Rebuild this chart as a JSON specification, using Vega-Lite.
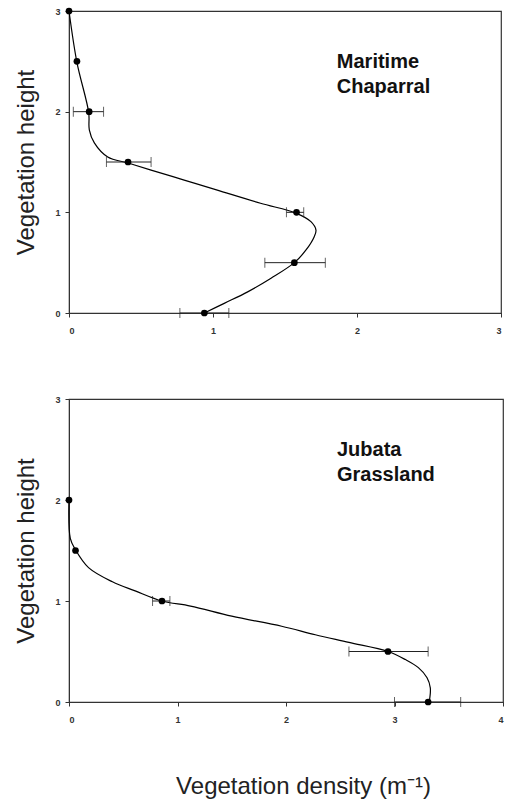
{
  "$schema": "https://vega.github.io/schema/vega-lite/v6.json",
  "padding": {"left": 14, "top": 6, "right": 4, "bottom": 0},
  "background": "white",
  "spacing": 58,
  "config": {
    "view": {"stroke": "#333", "strokeWidth": 1.2},
    "font": "Liberation Sans",
    "axis": {
      "grid": false,
      "domainColor": "#333",
      "tickColor": "#333",
      "tickSize": 4,
      "labelFont": "Liberation Sans",
      "labelFontSize": 9,
      "labelFontWeight": "bold",
      "labelColor": "#333",
      "titleFont": "Liberation Sans",
      "titleFontSize": 24,
      "titleFontWeight": "normal",
      "titleColor": "#222"
    },
    "axisX": {"labelPadding": 9},
    "axisY": {"labelPadding": 5, "titlePadding": 16},
    "text": {"lineBreak": "\n"}
  },
  "datasets": {
    "mc_points": [
      {"height": 3.0, "density": 0.0},
      {"height": 2.5, "density": 0.055},
      {"height": 2.0, "density": 0.14, "lo": 0.03, "hi": 0.24},
      {"height": 1.5, "density": 0.41, "lo": 0.26, "hi": 0.57},
      {"height": 1.0, "density": 1.58, "lo": 1.51, "hi": 1.63},
      {"height": 0.5, "density": 1.565, "lo": 1.36, "hi": 1.78},
      {"height": 0.0, "density": 0.94, "lo": 0.77, "hi": 1.11}
    ],
    "mc_curve": [
      {"height": 3.0, "density": 0.0},
      {"height": 2.49, "density": 0.055},
      {"height": 1.99, "density": 0.137},
      {"height": 1.82, "density": 0.141},
      {"height": 1.69, "density": 0.176},
      {"height": 1.55, "density": 0.269},
      {"height": 1.49, "density": 0.41},
      {"height": 1.42, "density": 0.57},
      {"height": 1.32, "density": 0.8},
      {"height": 1.22, "density": 1.03},
      {"height": 1.09, "density": 1.33},
      {"height": 0.99, "density": 1.58},
      {"height": 0.907, "density": 1.68},
      {"height": 0.824, "density": 1.715},
      {"height": 0.758, "density": 1.703},
      {"height": 0.626, "density": 1.646},
      {"height": 0.5, "density": 1.565},
      {"height": 0.345, "density": 1.403},
      {"height": 0.21, "density": 1.241},
      {"height": 0.096, "density": 1.078},
      {"height": 0.0, "density": 0.94}
    ],
    "jg_points": [
      {"height": 2.0, "density": 0.0},
      {"height": 1.5, "density": 0.06},
      {"height": 1.0, "density": 0.857, "lo": 0.77, "hi": 0.93},
      {"height": 0.5, "density": 2.94, "lo": 2.58, "hi": 3.31},
      {"height": 0.0, "density": 3.31, "lo": 3.0, "hi": 3.61}
    ],
    "jg_curve": [
      {"height": 2.0, "density": 0.0},
      {"height": 1.62, "density": 0.012},
      {"height": 1.51, "density": 0.058},
      {"height": 1.33, "density": 0.18},
      {"height": 1.19, "density": 0.4},
      {"height": 1.1, "density": 0.61},
      {"height": 1.0, "density": 0.857},
      {"height": 0.95, "density": 1.12},
      {"height": 0.85, "density": 1.5},
      {"height": 0.75, "density": 1.96},
      {"height": 0.666, "density": 2.27},
      {"height": 0.59, "density": 2.58},
      {"height": 0.5, "density": 2.94},
      {"height": 0.42, "density": 3.1},
      {"height": 0.34, "density": 3.22},
      {"height": 0.24, "density": 3.3},
      {"height": 0.14, "density": 3.33},
      {"height": 0.0, "density": 3.32}
    ],
    "mc_label": [{"density": 1.86, "height": 2.59, "label": "Maritime\nChaparral"}],
    "jg_label": [{"density": 2.47, "height": 2.59, "label": "Jubata\nGrassland"}]
  },
  "vconcat": [
    {
      "width": 432,
      "height": 302,
      "encoding": {
        "y": {"field": "height", "type": "quantitative", "scale": {"domain": [0, 3], "nice": false}, "axis": {"values": [0, 1, 2, 3], "title": "Vegetation height"}},
        "x": {"field": "density", "type": "quantitative", "scale": {"domain": [0, 3], "nice": false}, "axis": {"values": [0, 1, 2, 3], "title": null}}
      },
      "layer": [
        {"data": {"name": "mc_curve"}, "mark": {"type": "line", "color": "black", "strokeWidth": 1.2, "interpolate": "catmull-rom"}, "encoding": {"order": {"field": "height", "type": "quantitative", "sort": "descending"}}},
        {"data": {"name": "mc_points"}, "transform": [{"filter": "isValid(datum.lo)"}], "mark": {"type": "rule", "color": "#222", "strokeWidth": 1}, "encoding": {"x": {"field": "lo", "type": "quantitative"}, "x2": {"field": "hi"}}},
        {"data": {"name": "mc_points"}, "transform": [{"filter": "isValid(datum.lo)"}], "mark": {"type": "tick", "orient": "vertical", "color": "#222", "size": 10, "thickness": 1}, "encoding": {"x": {"field": "lo", "type": "quantitative"}}},
        {"data": {"name": "mc_points"}, "transform": [{"filter": "isValid(datum.lo)"}], "mark": {"type": "tick", "orient": "vertical", "color": "#222", "size": 10, "thickness": 1}, "encoding": {"x": {"field": "hi", "type": "quantitative"}}},
        {"data": {"name": "mc_points"}, "mark": {"type": "circle", "color": "black", "opacity": 1, "size": 45}},
        {"data": {"name": "mc_label"}, "mark": {"type": "text", "align": "left", "baseline": "top", "fontSize": 20, "fontWeight": "bold", "lineHeight": 25, "color": "#111"}, "encoding": {"text": {"field": "label"}}}
      ]
    },
    {
      "width": 434,
      "height": 303,
      "encoding": {
        "y": {"field": "height", "type": "quantitative", "scale": {"domain": [0, 3], "nice": false}, "axis": {"values": [0, 1, 2, 3], "title": "Vegetation height"}},
        "x": {"field": "density", "type": "quantitative", "scale": {"domain": [0, 4], "nice": false}, "axis": {"values": [0, 1, 2, 3, 4], "title": "Vegetation density (m⁻¹)", "titlePadding": 50, "titleX": 234, "titleAlign": "center"}}
      },
      "layer": [
        {"data": {"name": "jg_curve"}, "mark": {"type": "line", "color": "black", "strokeWidth": 1.2, "interpolate": "catmull-rom"}, "encoding": {"order": {"field": "height", "type": "quantitative", "sort": "descending"}}},
        {"data": {"name": "jg_points"}, "transform": [{"filter": "isValid(datum.lo)"}], "mark": {"type": "rule", "color": "#222", "strokeWidth": 1}, "encoding": {"x": {"field": "lo", "type": "quantitative"}, "x2": {"field": "hi"}}},
        {"data": {"name": "jg_points"}, "transform": [{"filter": "isValid(datum.lo)"}], "mark": {"type": "tick", "orient": "vertical", "color": "#222", "size": 10, "thickness": 1}, "encoding": {"x": {"field": "lo", "type": "quantitative"}}},
        {"data": {"name": "jg_points"}, "transform": [{"filter": "isValid(datum.lo)"}], "mark": {"type": "tick", "orient": "vertical", "color": "#222", "size": 10, "thickness": 1}, "encoding": {"x": {"field": "hi", "type": "quantitative"}}},
        {"data": {"name": "jg_points"}, "mark": {"type": "circle", "color": "black", "opacity": 1, "size": 45}},
        {"data": {"name": "jg_label"}, "mark": {"type": "text", "align": "left", "baseline": "top", "fontSize": 20, "fontWeight": "bold", "lineHeight": 25, "color": "#111"}, "encoding": {"text": {"field": "label"}}}
      ]
    }
  ]
}
